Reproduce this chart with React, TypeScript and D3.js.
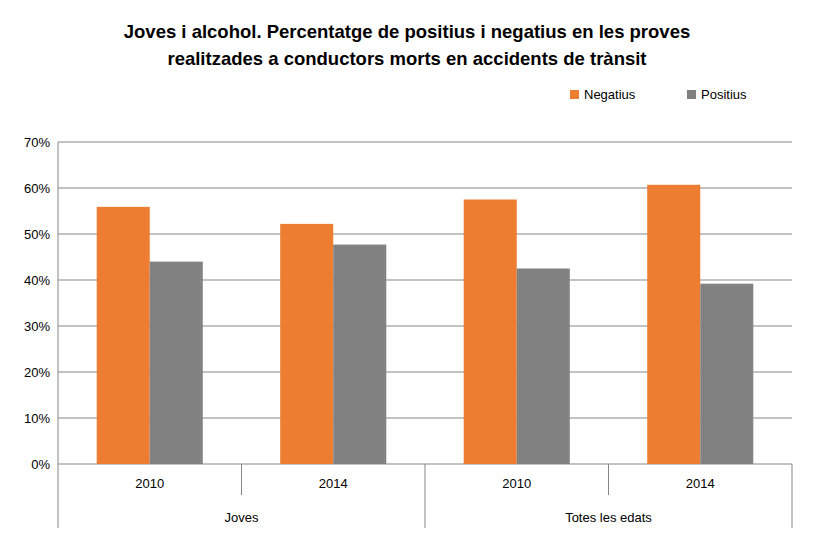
import React from "react";
import * as d3 from "d3";

const groups = ["Joves", "Totes les edats"];
const years = ["2010", "2014"];
const negatius = [55.9, 52.2, 57.5, 60.7];
const positius = [44.0, 47.7, 42.5, 39.2];
const yTicks = [0, 10, 20, 30, 40, 50, 60, 70];
const series = ["Negatius", "Positius"];
const colors = ["#ED7D31", "#7F7F7F"];

const font = "'Liberation Sans', Arial, sans-serif";

export default function App() {
  const width = 814;
  const height = 539;
  const left = 58, right = 792, top = 142, bottom = 464;

  const cats = groups.flatMap((g) => years.map((y) => `${g}|${y}`));
  const x = d3.scaleBand().domain(cats).range([left, right]);
  const xs = d3.scaleBand().domain(series).range([0, x.bandwidth()]).paddingOuter(0.73).paddingInner(0);
  const y = d3.scaleLinear().domain([0, 70]).range([bottom, top]);
  const grid = "#868686";

  return (
    <svg width={width} height={height} style={{ position: "absolute", left: 0, top: 0 }}>
      <defs>
        <pattern id="dots" width="2" height="2" patternUnits="userSpaceOnUse">
          <rect width="2" height="2" fill="#7F7F7F" />
          <rect width="1" height="1" fill="#8a8a8a" />
        </pattern>
      </defs>
      <rect width={width} height={height} fill="#fff" />
      <text x={407} y={38} textAnchor="middle" fontFamily={font} fontWeight="bold" fontSize={18.5}>
        Joves i alcohol. Percentatge de positius i negatius en les proves
      </text>
      <text x={407} y={65} textAnchor="middle" fontFamily={font} fontWeight="bold" fontSize={18.5}>
        realitzades a conductors morts en accidents de trànsit
      </text>
      {series.map((s, i) => (
        <g key={s} transform={`translate(${570 + i * 117},90)`}>
          <rect width={9} height={9} fill={colors[i]} />
          <text x={14} y={9} fontFamily={font} fontSize={13}>{s}</text>
        </g>
      ))}
      {yTicks.map((t) => (
        <g key={t}>
          <line x1={left} x2={right} y1={y(t)} y2={y(t)} stroke={grid} />
          <text x={left - 8} y={y(t) + 5} textAnchor="end" fontFamily={font} fontSize={13}>{t}%</text>
        </g>
      ))}
      <line x1={left} x2={left} y1={top} y2={bottom} stroke={grid} />
      {cats.map((c, i) => (
        <g key={c}>
          <rect x={x(c)! + xs("Negatius")!} y={y(negatius[i])} width={xs.bandwidth()} height={bottom - y(negatius[i])} fill={colors[0]} />
          <rect x={x(c)! + xs("Positius")!} y={y(positius[i])} width={xs.bandwidth()} height={bottom - y(positius[i])} fill="url(#dots)" />
          <text x={x(c)! + x.bandwidth() / 2} y={488} textAnchor="middle" fontFamily={font} fontSize={13}>{c.split("|")[1]}</text>
        </g>
      ))}
      {d3.range(cats.length + 1).map((i) => {
        const xx = i < cats.length ? x(cats[i])! : right;
        return <line key={i} x1={xx} x2={xx} y1={bottom} y2={i % 2 === 0 ? 528 : 495} stroke={grid} />;
      })}
      {groups.map((g, i) => (
        <text key={g} x={x(`${g}|2010`)! + x.bandwidth()} y={522} textAnchor="middle" fontFamily={font} fontSize={13}>{g}</text>
      ))}
    </svg>
  );
}
